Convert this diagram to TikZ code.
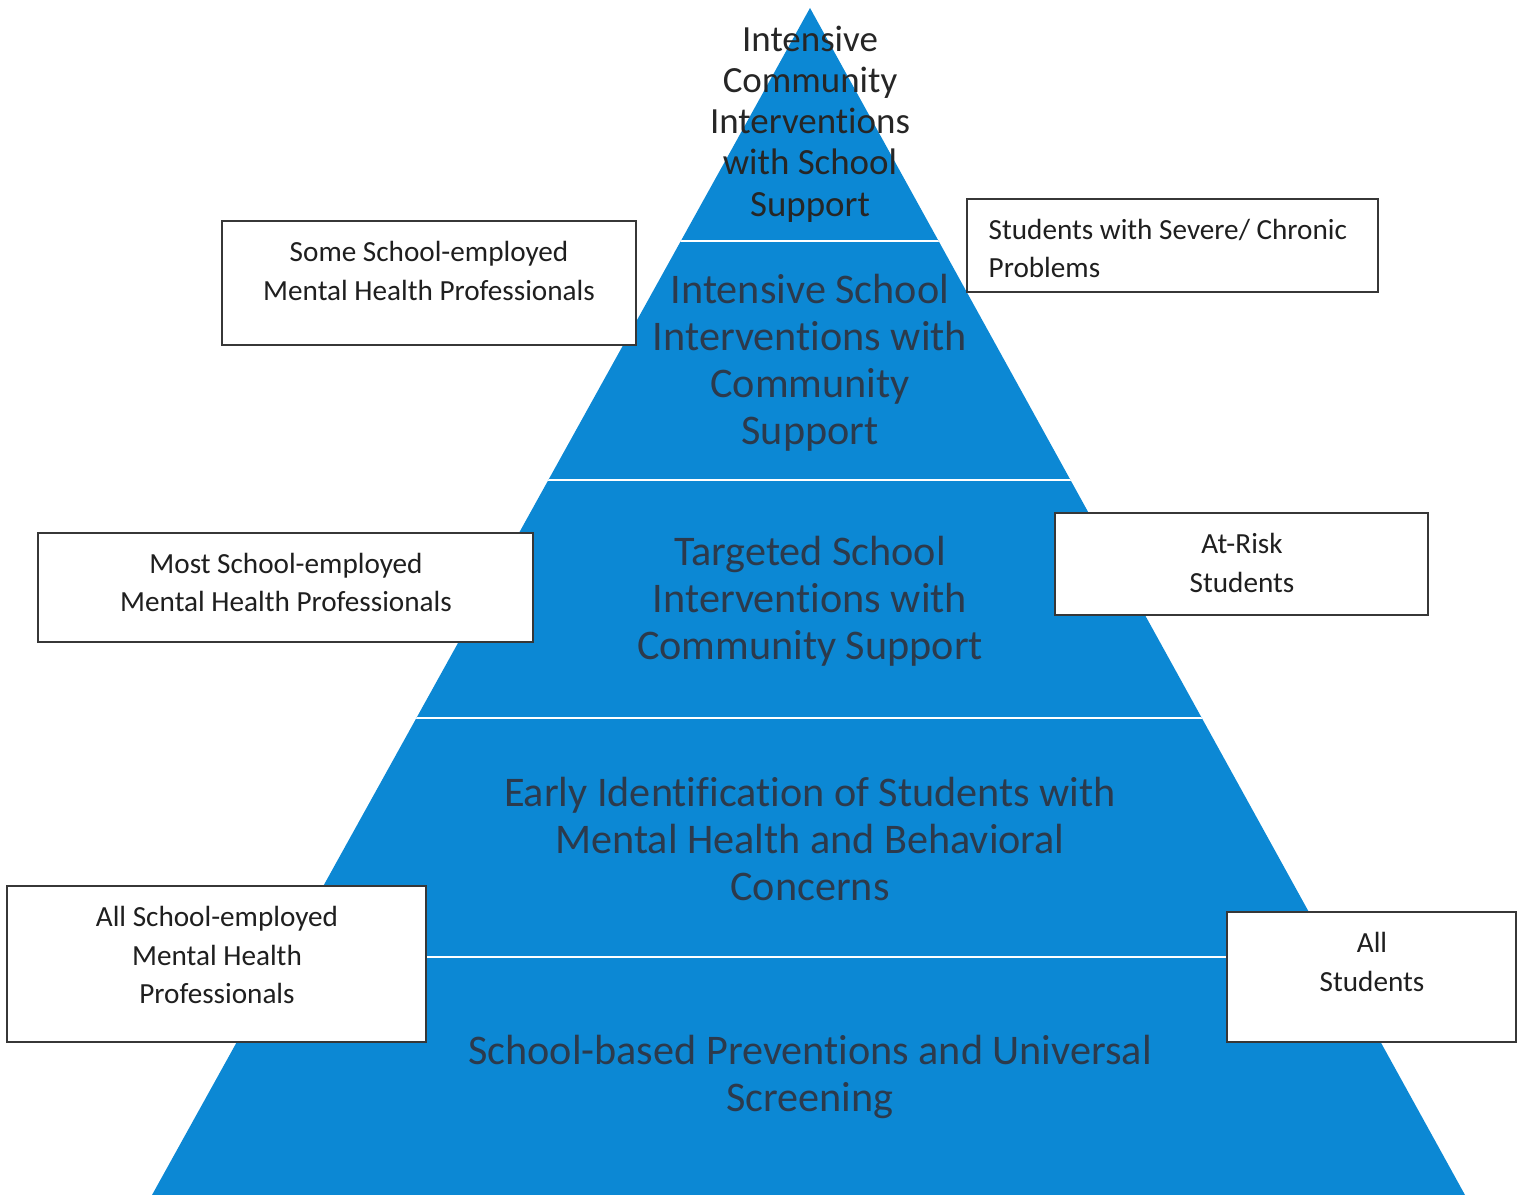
\documentclass[tikz,border=0pt]{standalone}
\usepackage{fontspec}
\setmainfont{Carlito}[Ligatures=NoCommon]
\definecolor{pyrblue}{RGB}{12,136,212}
\definecolor{pyrtext}{RGB}{44,58,76}
\definecolor{boxline}{RGB}{55,55,55}
\tikzset{
	box/.style={draw=boxline, line width=0.75pt, fill=white, inner sep=0pt},
	boxtext/.style={align=center, inner sep=0pt, font=\fontsize{8.3}{10.9}\selectfont, text=black!88},
	tiertext/.style={align=center, inner sep=0pt, font=\fontsize{12}{13.4}\selectfont, text=pyrtext},
}
\begin{document}
\begin{tikzpicture}[x=0.01cm, y=-0.01cm]
		\useasboundingbox (0,0) rectangle (1525,1195);
		%金字塔
		\fill[pyrblue] (810,8) -- (152,1195) -- (1465,1195) -- cycle;
		\begin{scope}
			\clip (810,8) -- (152,1195) -- (1465,1195) -- cycle;
			\foreach \y in {241,480,718,957}
				\draw[white, line width=0.8pt] (0,\y) -- (1525,\y);
		\end{scope}
		%层级文字
		\draw (810,124) node[align=center, inner sep=0pt, font=\fontsize{10.5}{11.7}\selectfont, text=black!85](t-1){Intensive\\Community\\Interventions\\with School\\Support};
		\draw (810,363) node[tiertext](t-2){Intensive School\\Interventions with\\Community\\Support};
		\draw (810,601) node[tiertext](t-3){Targeted School\\Interventions with\\Community Support};
		\draw (810,839) node[tiertext](t-4){Early Identification of Students with\\Mental Health and Behavioral\\Concerns};
		\draw (810,1077) node[tiertext](t-5){School-based Preventions and Universal\\Screening};
		%左侧说明框
		\draw (429,283) node[box, minimum width=4.14cm, minimum height=1.24cm](l-1){};
		\draw (285.5,587.5) node[box, minimum width=4.95cm, minimum height=1.09cm](l-2){};
		\draw (216.5,964) node[box, minimum width=4.19cm, minimum height=1.56cm](l-3){};
		\draw (429,271) node[boxtext](lt-1){Some School-employed\\Mental Health Professionals};
		\draw (286,582.5) node[boxtext](lt-2){Most School-employed\\Mental Health Professionals};
		\draw (217,955) node[boxtext](lt-3){All School-employed\\Mental Health\\Professionals};
		%右侧说明框
		\draw (1172.5,245.5) node[box, minimum width=4.11cm, minimum height=0.93cm](r-1){};
		\draw (1241.5,564) node[box, minimum width=3.73cm, minimum height=1.02cm](r-2){};
		\draw (1371.5,977) node[box, minimum width=2.89cm, minimum height=1.30cm](r-3){};
		\draw (988,248.5) node[boxtext, align=left, anchor=west](rt-1){Students with Severe/ Chronic\\Problems};
		\draw (1242,563) node[boxtext](rt-2){At-Risk\\Students};
		\draw (1372,962) node[boxtext](rt-3){All\\Students};
	\end{tikzpicture}
\end{document}
